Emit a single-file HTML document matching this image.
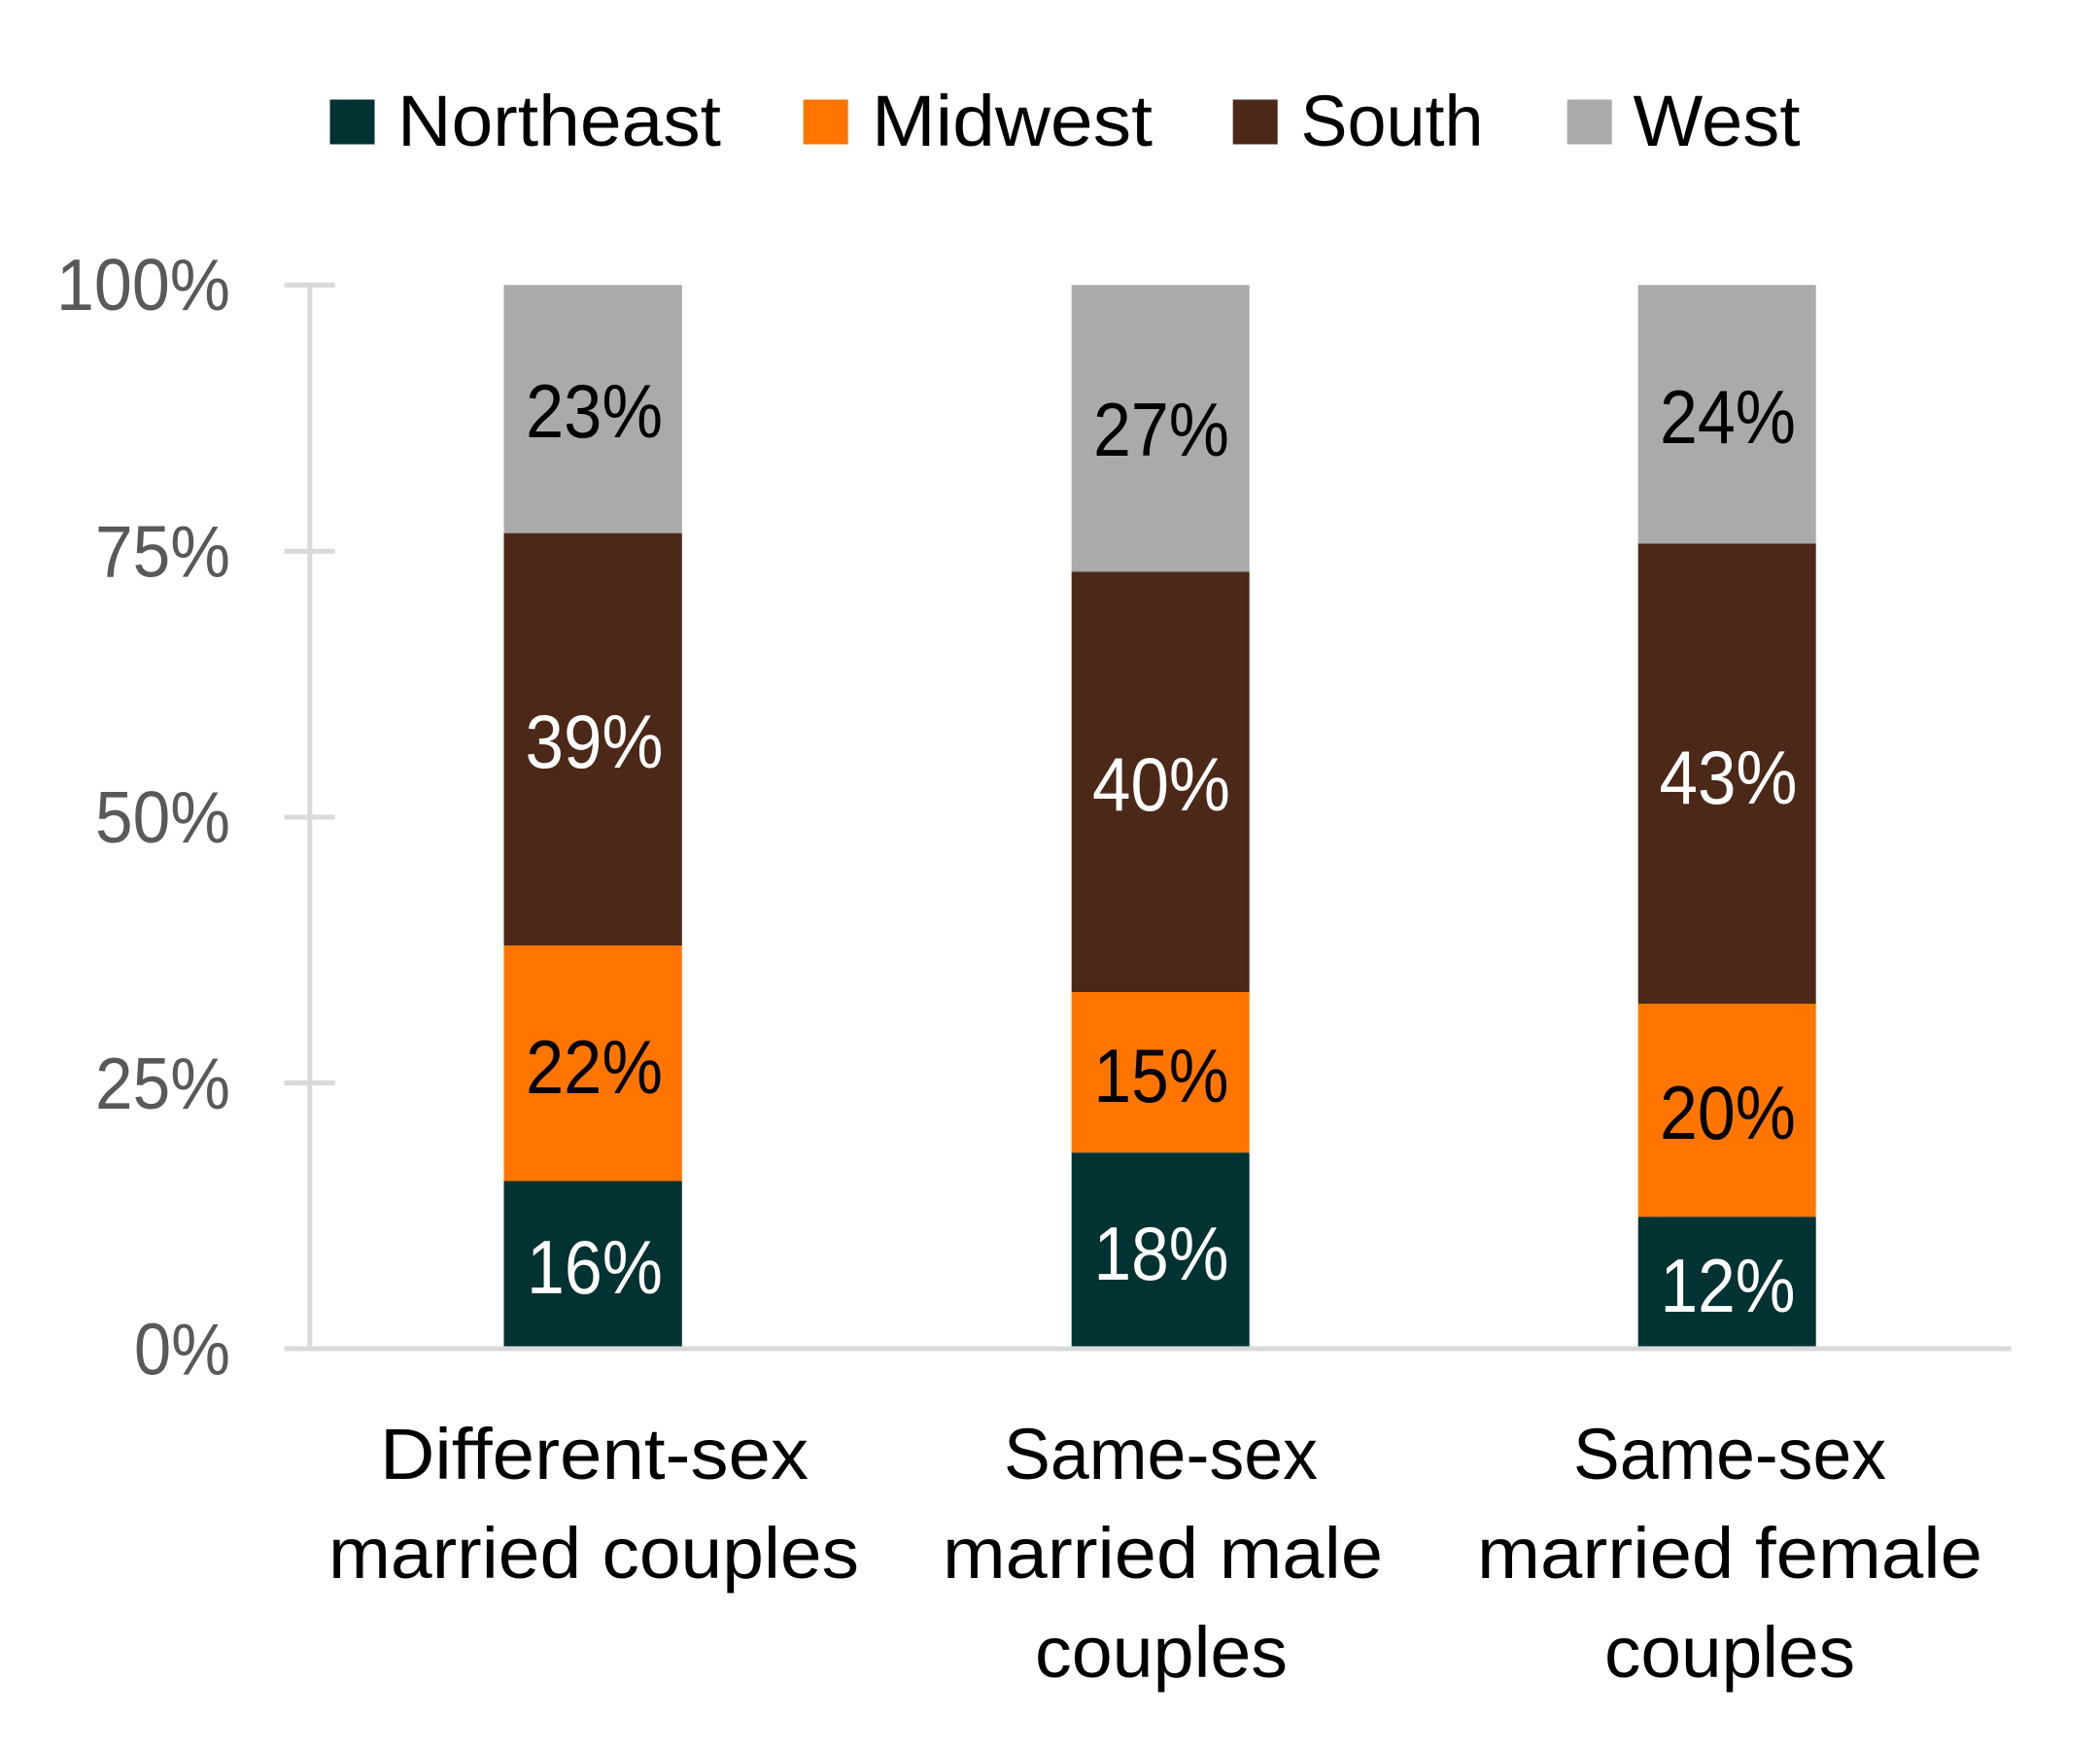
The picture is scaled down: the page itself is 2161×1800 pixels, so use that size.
<!DOCTYPE html>
<html>
<head>
<meta charset="utf-8">
<style>
  html, body { margin: 0; padding: 0; background: #ffffff; }
  svg { display: block; }
  text { font-family: "Liberation Sans", "DejaVu Sans", sans-serif; }
</style>
</head>
<body>
<svg width="2161" height="1800" viewBox="0 0 2161 1800" xmlns="http://www.w3.org/2000/svg">
  <rect x="0" y="0" width="2161" height="1800" fill="#ffffff"/>

  <!-- Legend -->
  <rect x="339.5" y="102.5" width="46" height="46" fill="#023232"/>
  <text x="409" y="150" font-size="74" fill="#000" textLength="333" lengthAdjust="spacingAndGlyphs">Northeast</text>
  <rect x="826.7" y="102.5" width="46" height="46" fill="#FF7500"/>
  <text x="897" y="150" font-size="74" fill="#000" textLength="289" lengthAdjust="spacingAndGlyphs">Midwest</text>
  <rect x="1268.7" y="102.5" width="46" height="46" fill="#4B2817"/>
  <text x="1338.5" y="150" font-size="74" fill="#000" textLength="188" lengthAdjust="spacingAndGlyphs">South</text>
  <rect x="1612.7" y="102.5" width="46" height="46" fill="#AAAAAA"/>
  <text x="1680.5" y="150" font-size="74" fill="#000" textLength="172" lengthAdjust="spacingAndGlyphs">West</text>

  <!-- Y axis labels -->
  <text x="58" y="319" font-size="75" fill="#595959" textLength="179" lengthAdjust="spacingAndGlyphs">100%</text>
  <text x="98" y="593.5" font-size="75" fill="#595959" textLength="139" lengthAdjust="spacingAndGlyphs">75%</text>
  <text x="98" y="867.2" font-size="75" fill="#595959" textLength="139" lengthAdjust="spacingAndGlyphs">50%</text>
  <text x="98" y="1140.8" font-size="75" fill="#595959" textLength="139" lengthAdjust="spacingAndGlyphs">25%</text>
  <text x="138" y="1414.5" font-size="75" fill="#595959" textLength="99" lengthAdjust="spacingAndGlyphs">0%</text>

  <!-- Bar 1 -->
  <rect x="518.5" y="293.3" width="183.3" height="255.4" fill="#AAAAAA"/>
  <rect x="518.5" y="548.7" width="183.3" height="424.3" fill="#4B2817"/>
  <rect x="518.5" y="973" width="183.3" height="242.5" fill="#FF7500"/>
  <rect x="518.5" y="1215.5" width="183.3" height="171" fill="#023232"/>

  <!-- Bar 2 -->
  <rect x="1102.7" y="293.3" width="183" height="295.2" fill="#AAAAAA"/>
  <rect x="1102.7" y="588.5" width="183" height="432.5" fill="#4B2817"/>
  <rect x="1102.7" y="1021" width="183" height="165.3" fill="#FF7500"/>
  <rect x="1102.7" y="1186.3" width="183" height="200.2" fill="#023232"/>

  <!-- Bar 3 -->
  <rect x="1685.7" y="293.3" width="183" height="266.2" fill="#AAAAAA"/>
  <rect x="1685.7" y="559.5" width="183" height="473.5" fill="#4B2817"/>
  <rect x="1685.7" y="1033" width="183" height="219.3" fill="#FF7500"/>
  <rect x="1685.7" y="1252.3" width="183" height="134.2" fill="#023232"/>

  <!-- Axes -->
  <rect x="316.3" y="290.8" width="5" height="1099.7" fill="#D9D9D9"/>
  <rect x="292.7" y="290.8" width="52" height="5" fill="#D9D9D9"/>
  <rect x="292.7" y="564.8" width="52" height="5" fill="#D9D9D9"/>
  <rect x="292.7" y="838.5" width="52" height="5" fill="#D9D9D9"/>
  <rect x="292.7" y="1112" width="52" height="5" fill="#D9D9D9"/>
  <rect x="292.7" y="1385.5" width="1777" height="5" fill="#D9D9D9"/>

  <!-- Data labels bar 1 -->
  <text x="541" y="450" font-size="78" fill="#000" textLength="141" lengthAdjust="spacingAndGlyphs">23%</text>
  <text x="540.5" y="790" font-size="78" fill="#fff" textLength="142" lengthAdjust="spacingAndGlyphs">39%</text>
  <text x="541" y="1125" font-size="78" fill="#000" textLength="141" lengthAdjust="spacingAndGlyphs">22%</text>
  <text x="542" y="1331" font-size="78" fill="#fff" textLength="140" lengthAdjust="spacingAndGlyphs">16%</text>

  <!-- Data labels bar 2 -->
  <text x="1125" y="469" font-size="78" fill="#000" textLength="140" lengthAdjust="spacingAndGlyphs">27%</text>
  <text x="1124" y="834" font-size="78" fill="#fff" textLength="142" lengthAdjust="spacingAndGlyphs">40%</text>
  <text x="1125.5" y="1134" font-size="78" fill="#000" textLength="139" lengthAdjust="spacingAndGlyphs">15%</text>
  <text x="1125.5" y="1317" font-size="78" fill="#fff" textLength="139" lengthAdjust="spacingAndGlyphs">18%</text>

  <!-- Data labels bar 3 -->
  <text x="1708" y="456" font-size="78" fill="#000" textLength="140" lengthAdjust="spacingAndGlyphs">24%</text>
  <text x="1707.5" y="827" font-size="78" fill="#fff" textLength="142" lengthAdjust="spacingAndGlyphs">43%</text>
  <text x="1708" y="1172" font-size="78" fill="#000" textLength="140" lengthAdjust="spacingAndGlyphs">20%</text>
  <text x="1708.5" y="1350" font-size="78" fill="#fff" textLength="139" lengthAdjust="spacingAndGlyphs">12%</text>

  <!-- X axis category labels -->
  <text x="391" y="1522" font-size="74" fill="#000" textLength="441" lengthAdjust="spacingAndGlyphs">Different-sex</text>
  <text x="338" y="1624" font-size="74" fill="#000" textLength="546" lengthAdjust="spacingAndGlyphs">married couples</text>

  <text x="1033" y="1522" font-size="74" fill="#000" textLength="323" lengthAdjust="spacingAndGlyphs">Same-sex</text>
  <text x="970" y="1624" font-size="74" fill="#000" textLength="453" lengthAdjust="spacingAndGlyphs">married male</text>
  <text x="1065" y="1726" font-size="74" fill="#000" textLength="260" lengthAdjust="spacingAndGlyphs">couples</text>

  <text x="1619" y="1522" font-size="74" fill="#000" textLength="322" lengthAdjust="spacingAndGlyphs">Same-sex</text>
  <text x="1520" y="1624" font-size="74" fill="#000" textLength="520" lengthAdjust="spacingAndGlyphs">married female</text>
  <text x="1651" y="1726" font-size="74" fill="#000" textLength="258" lengthAdjust="spacingAndGlyphs">couples</text>
</svg>
</body>
</html>
